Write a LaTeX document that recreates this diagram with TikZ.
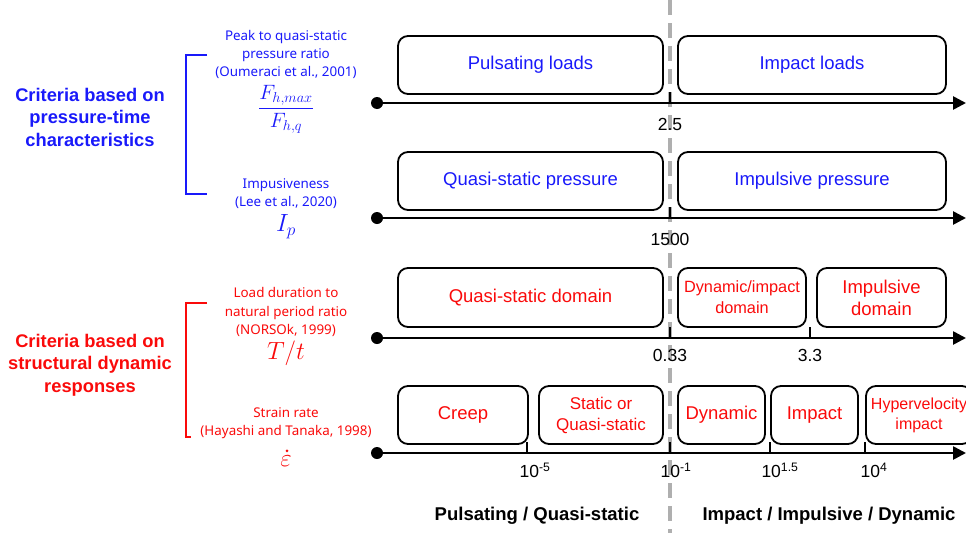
\documentclass[tikz,border=0pt]{standalone}
\usepackage{fontspec}
\setmainfont{Liberation Sans}
\newfontfamily\lfont{Noto Sans}
\usetikzlibrary{arrows.meta}
\definecolor{cblue}{RGB}{25,25,250}
\definecolor{cred}{RGB}{250,10,10}
\definecolor{cgray}{RGB}{175,175,175}
\begin{document}
\begin{tikzpicture}[x=1pt,y=-1pt,
  box/.style={draw=black,line width=1.8pt,rounded corners=10pt,inner sep=0pt,align=center,font=\fontsize{18.5}{20}\selectfont},
  bbox/.style={box,text=cblue},
  rbox/.style={box,text=cred},
  axis/.style={line width=2.6pt,-{Triangle[length=13pt,width=13pt]}},
  tick/.style={line width=2pt},
  dotn/.style={circle,fill=black,inner sep=0pt,minimum size=12pt},
  num/.style={font=\fontsize{17.5}{19}\selectfont,inner sep=0pt},
  small/.style={font=\lfont\fontsize{13.4}{18.3}\selectfont,align=center,inner sep=0pt},
  big/.style={font=\fontsize{18.3}{22.5}\selectfont\bfseries,align=center,inner sep=0pt},
  brk/.style={line width=1.3pt}
]
\useasboundingbox (0,0) rectangle (966,533);
% dashed separator
\coordinate (dtop) at (670,0);
\coordinate (dbot) at (670,533);
\draw[cgray,line width=3.5pt,dash pattern=on 15pt off 8pt] (dtop) -- (dbot);

% axes
\foreach \n/\y in {1/103,2/218,3/338,4/453}{
  \node[dotn] (s\n) at (377,\y) {};
  \coordinate (e\n) at (966,\y);
  \draw[axis] (s\n.center) -- (e\n);
}
% ticks
\coordinate (t1a) at (670,92); \coordinate (t1b) at (670,103);
\draw[tick] (t1a) -- (t1b);
\coordinate (t2a) at (670,207); \coordinate (t2b) at (670,218);
\draw[tick] (t2a) -- (t2b);
\coordinate (t3a) at (670,327); \coordinate (t3b) at (670,338);
\draw[tick] (t3a) -- (t3b);
\coordinate (t3c) at (810,327); \coordinate (t3d) at (810,338);
\draw[tick] (t3c) -- (t3d);
\foreach \x [count=\i] in {527,670,770,865}{
  \coordinate (u\i a) at (\x,442); \coordinate (u\i b) at (\x,453);
  \draw[tick] (u\i a) -- (u\i b);
}

% row 1
\node[bbox,minimum width=265pt,minimum height=58pt] (p1) at (530.5,65) {Pulsating loads};
\node[bbox,minimum width=268pt,minimum height=58pt] (p2) at (812,65) {Impact loads};
% row 2
\node[bbox,minimum width=265pt,minimum height=58pt] (q1) at (530.5,181) {Quasi-static pressure};
\node[bbox,minimum width=268pt,minimum height=58pt] (q2) at (812,181) {Impulsive pressure};
% row 3
\node[rbox,minimum width=265pt,minimum height=59pt] (r1) at (530.5,297.5) {Quasi-static domain};
\node[rbox,minimum width=128pt,minimum height=59pt,font=\fontsize{16.3}{21}\selectfont] (r2) at (742,297.5) {Dynamic/impact\\domain};
\node[rbox,minimum width=129pt,minimum height=59pt,font=\fontsize{18.5}{22}\selectfont] (r3) at (881.5,297.5) {Impulsive\\domain};
% row 4
\node[rbox,minimum width=130pt,minimum height=58pt] (c1) at (463,415) {Creep};
\node[rbox,minimum width=124pt,minimum height=58pt,font=\fontsize{17}{21}\selectfont] (c2) at (601,415) {Static or\\Quasi-static};
\node[rbox,minimum width=87pt,minimum height=58pt] (c3) at (721.5,415) {Dynamic};
\node[rbox,minimum width=87pt,minimum height=58pt] (c4) at (814.5,415) {Impact};
\node[rbox,minimum width=106pt,minimum height=58pt,font=\fontsize{16}{20}\selectfont] (c5) at (919,415) {Hypervelocity\\impact};

% tick labels
\node[num] (n1) at (670,124) {2.5};
\node[num] (n2) at (670,239) {1500};
\node[num] (n3) at (670,355) {0.33};
\node[num] (n4) at (810,355) {3.3};
\node[num] (m1) at (535,470) {10\textsuperscript{-5}};
\node[num] (m2) at (676,470) {10\textsuperscript{-1}};
\node[num] (m3) at (780,470) {10\textsuperscript{1.5}};
\node[num] (m4) at (874,470) {10\textsuperscript{4}};

% bottom labels
\node[font=\fontsize{18.5}{20}\selectfont\bfseries,inner sep=0pt] (bl) at (537,516) {Pulsating / Quasi-static};
\node[font=\fontsize{18.5}{20}\selectfont\bfseries,inner sep=0pt] (br) at (829,516) {Impact / Impulsive / Dynamic};

% left blue
\node[big,text=cblue] (lb) at (90,117) {Criteria based on\\pressure-time\\characteristics};
\coordinate (bb1) at (207,55); \coordinate (bb2) at (186,55);
\coordinate (bb3) at (186,194); \coordinate (bb4) at (207,194);
\draw[brk,cblue] (bb1) -- (bb2) -- (bb3) -- (bb4);
\node[small,text=cblue] (tb1) at (286,54.5) {Peak to quasi-static\\pressure ratio\\(Oumeraci et al., 2001)};
\node[text=cblue,inner sep=0pt,font=\fontsize{22}{24}\selectfont] (fb1) at (286,109) {$\displaystyle\frac{F_{h,max}}{F_{h,q}}$};
\node[small,text=cblue] (tb2) at (286,193.5) {Impusiveness\\(Lee et al., 2020)};
\node[text=cblue,inner sep=0pt,font=\fontsize{23}{24}\selectfont] (fb2) at (286,227) {$I_p$};

% left red
\node[big,text=cred] (lr) at (90,365) {Criteria based on\\structural dynamic\\responses};
\coordinate (rb1) at (207,303); \coordinate (rb2) at (186,303);
\coordinate (rb3) at (186,437); \coordinate (rb4) at (191,437);
\draw[brk,cred] (rb1) -- (rb2) -- (rb3) -- (rb4);
\node[small,text=cred] (tr1) at (286,312) {Load duration to\\natural period ratio\\(NORSOk, 1999)};
\node[text=cred,inner sep=0pt,font=\fontsize{23}{24}\selectfont] (fr1) at (286,353) {$T/t$};
\node[small,text=cred] (tr2) at (286,423.5) {Strain rate\\(Hayashi and Tanaka, 1998)};
\node[text=cred,inner sep=0pt,font=\fontsize{23}{24}\selectfont] (fr2) at (286,461) {$\varepsilon$};
\fill[cred] ([xshift=1pt,yshift=4.5pt]fr2.north) circle (1.5pt);
\end{tikzpicture}
\end{document}
